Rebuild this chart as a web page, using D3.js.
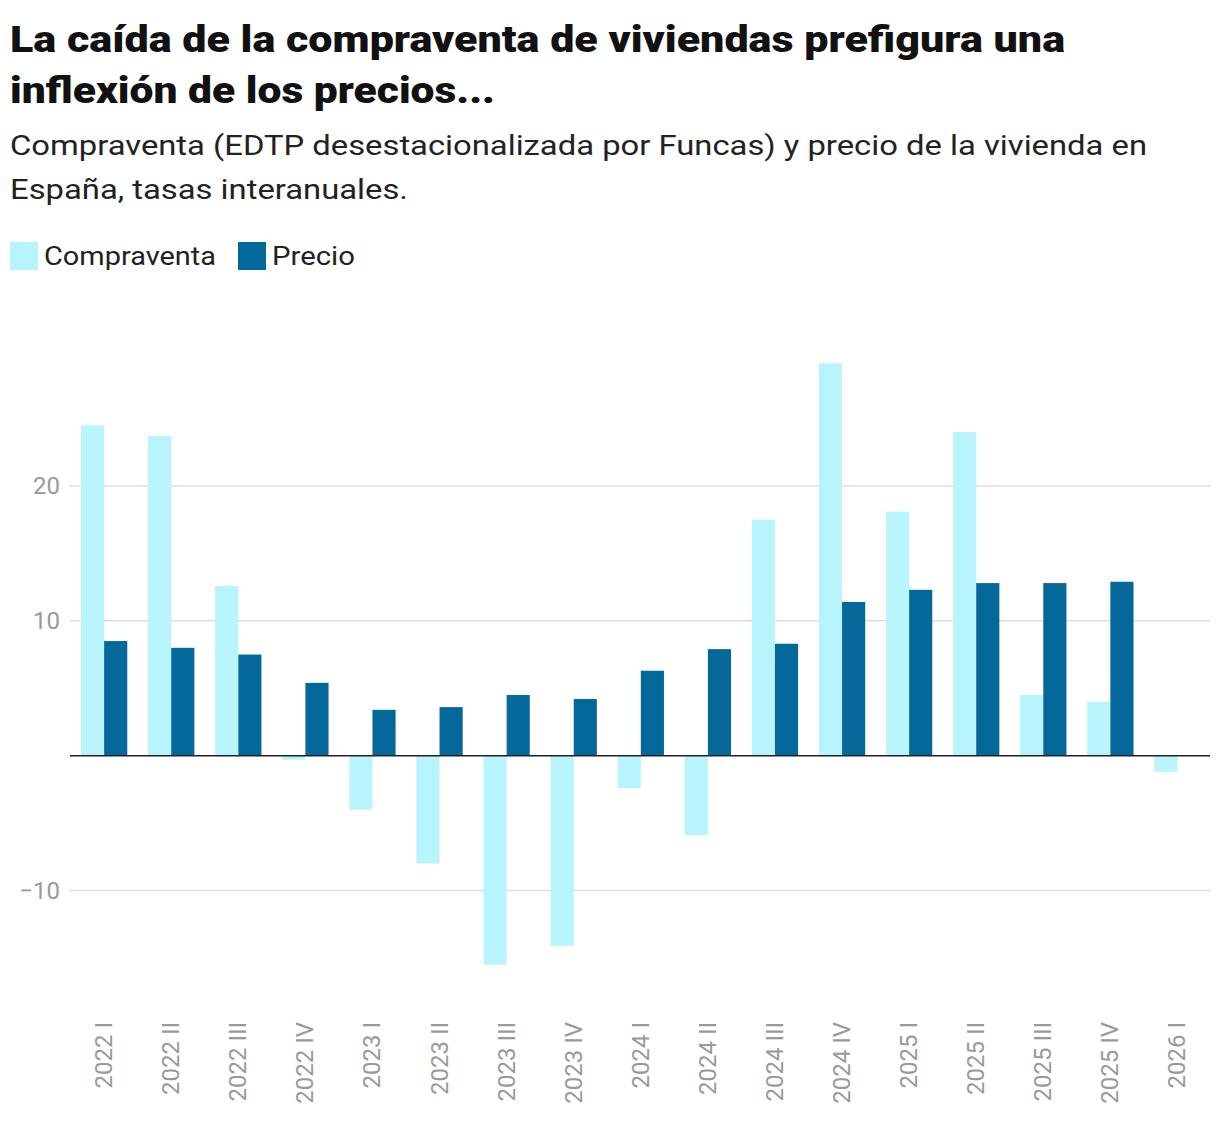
<!DOCTYPE html><html><head><meta charset="utf-8"><script src="https://cdn.jsdelivr.net/npm/d3@7"></script>
<style>body{margin:0;background:#fff;font-family:Roboto,"Noto Sans",sans-serif;}</style></head><body><svg id="c" width="1220" height="1142"></svg>
<script>
const categories=["2022 I","2022 II","2022 III","2022 IV","2023 I","2023 II","2023 III","2023 IV","2024 I","2024 II","2024 III","2024 IV","2025 I","2025 II","2025 III","2025 IV","2026 I"];
const compraventa=[24.5,23.7,12.6,-0.3,-4.0,-8.0,-15.5,-14.1,-2.4,-5.9,17.5,29.1,18.1,24.0,4.5,4.0,-1.2];
const precio=[8.5,8.0,7.5,5.4,3.4,3.6,4.5,4.2,6.3,7.9,8.3,11.4,12.3,12.8,12.8,12.9,null];
const yTicks=[-10,10,20];
const C1="#b8f4fc",C2="#05689b";
const svg=d3.select("#c");
function txt(x,y,s,w,t,len){const e=svg.append("text").attr("x",x).attr("y",y).attr("font-size",s).attr("font-weight",w).attr("fill","#111").text(t);
 if(len)e.attr("textLength",len).attr("lengthAdjust","spacingAndGlyphs");return e;}
txt(10,52,37,900,"La caída de la compraventa de viviendas prefigura una",1055);
txt(10,103,37,900,"inflexión de los precios...",485);
txt(10,155,28,400,"Compraventa (EDTP desestacionalizada por Funcas) y precio de la vivienda en",1137).attr("fill","#222");
txt(10,199,28,400,"España, tasas interanuales.",398).attr("fill","#222");
const lg=[["Compraventa",C1,10,172],["Precio",C2,238,83]];
lg.forEach(([t,c,x,l])=>{svg.append("rect").attr("x",x).attr("y",242).attr("width",28).attr("height",28).attr("fill",c);
txt(x+34,265,26,400,t,l).attr("fill","#222");});
const x=d3.scaleBand().domain(categories).range([70.6,1211]).paddingInner(0.31).paddingOuter(0.155);
const xs=d3.scaleBand().domain([0,1]).range([0,x.bandwidth()]);
const y=d3.scaleLinear().domain([-10,20]).range([890.5,486]);
const g=svg.append("g");
yTicks.forEach(t=>{g.append("line").attr("x1",70).attr("x2",1210).attr("y1",y(t)).attr("y2",y(t)).attr("stroke","#ddd").attr("stroke-width",1.5);
g.append("text").attr("x",60).attr("y",y(t)+8).attr("text-anchor","end").attr("font-size",24).attr("fill","#999").text(t<0?"\u2212"+(-t):t);});
g.selectAll(".a").data(compraventa).join("rect").attr("x",(d,i)=>x(categories[i])+xs(0)).attr("width",xs.bandwidth())
 .attr("y",d=>y(Math.max(0,d))).attr("height",d=>Math.abs(y(d)-y(0))).attr("fill",C1);
g.selectAll(".b").data(precio).join("rect").filter(d=>d!=null).attr("x",(d,i)=>x(categories[i])+xs(1)).attr("width",xs.bandwidth())
 .attr("y",d=>y(Math.max(0,d))).attr("height",d=>Math.abs(y(d)-y(0))).attr("fill",C2);
g.append("line").attr("x1",70).attr("x2",1210).attr("y1",y(0)).attr("y2",y(0)).attr("stroke","#222").attr("stroke-width",1.5);
categories.forEach(c=>{const cx=x(c)+x.bandwidth()/2;
g.append("text").attr("transform",`translate(${cx+8},1022) rotate(-90)`).attr("text-anchor","end").attr("font-size",24).attr("fill","#999").text(c);});
</script></body></html>
